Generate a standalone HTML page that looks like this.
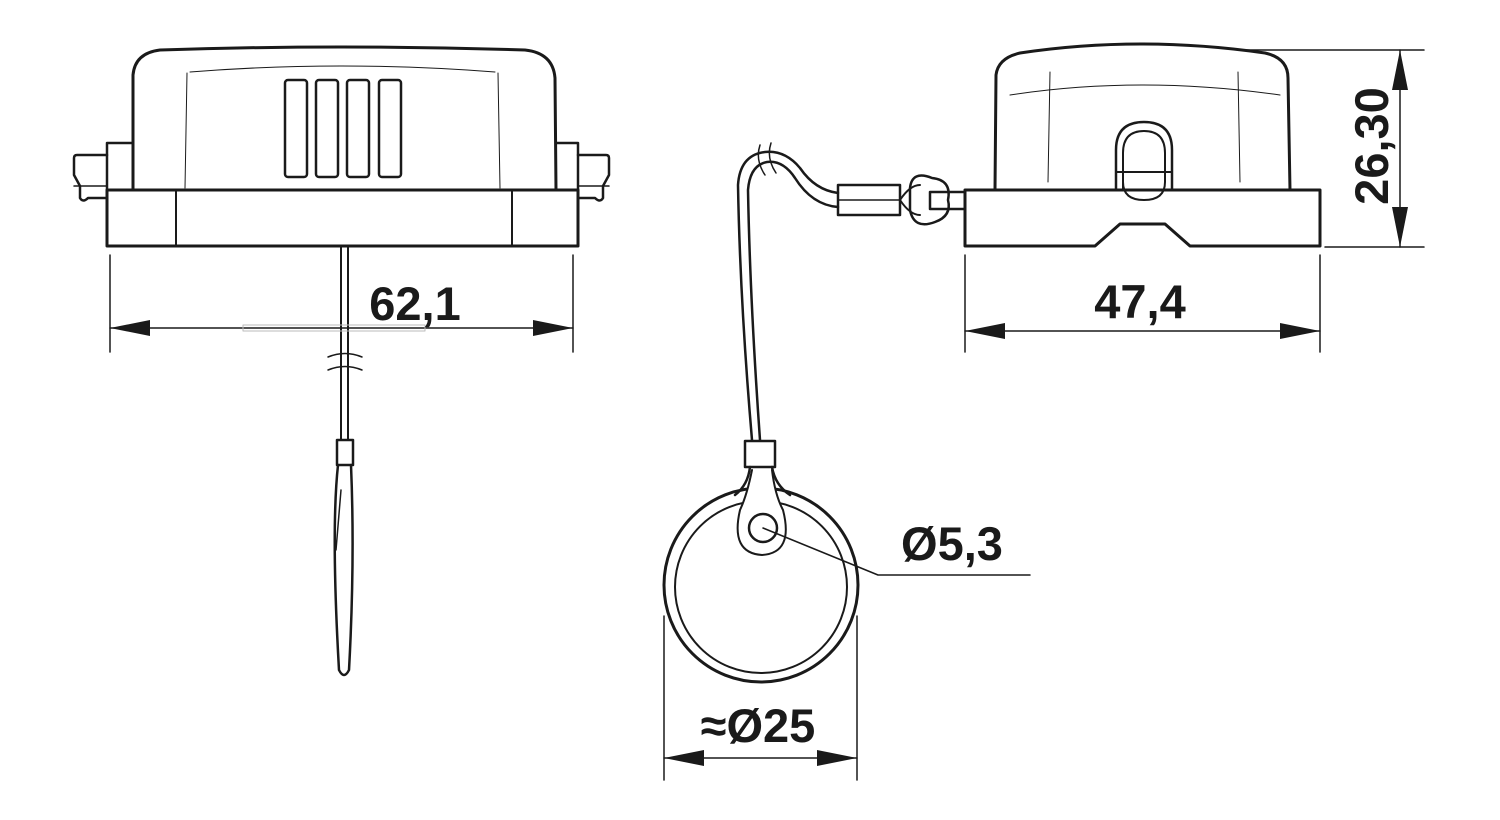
<!DOCTYPE html>
<html><head><meta charset="utf-8"><style>html,body{margin:0;padding:0;background:#fff}svg{display:block}</style></head>
<body>
<svg width="1500" height="820" viewBox="0 0 1500 820" xmlns="http://www.w3.org/2000/svg">
<g fill="none" stroke="#1a1a1a" stroke-linejoin="round" stroke-linecap="round">
<!-- LEFT VIEW -->
<path d="M133,190 L133,75 Q135,53 160,50 Q340,44 525,50 Q553,53 555,78 L556,190" stroke-width="3"/>
<rect x="107" y="190" width="471" height="56" stroke-width="3"/>
<line x1="176" y1="190" x2="176" y2="246" stroke-width="2"/>
<line x1="512" y1="190" x2="512" y2="246" stroke-width="2"/>
<path d="M107,190 L107,143 L133,143" stroke-width="2.5"/>
<path d="M107,155 L77,155 Q74,155 74,158 L74,175 L80,186 L80,198 Q83,203 88,198 L107,198" stroke-width="2.5"/>
<line x1="74" y1="186" x2="107" y2="186" stroke-width="1.5"/>
<path d="M578,190 L578,143 L556,143" stroke-width="2.5"/>
<path d="M578,155 L606,155 Q609,155 609,158 L609,175 L603,186 L603,198 Q600,203 595,198 L578,198" stroke-width="2.5"/>
<line x1="578" y1="186" x2="609" y2="186" stroke-width="1.5"/>
<path d="M190,72 Q340,60 495,72" stroke-width="1"/>
<line x1="187" y1="73" x2="185" y2="188" stroke-width="1"/>
<line x1="498" y1="73" x2="500" y2="188" stroke-width="1"/>
<rect x="285" y="80" width="22" height="97" rx="3" stroke-width="2.5"/>
<rect x="316" y="80" width="22" height="97" rx="3" stroke-width="2.5"/>
<rect x="347" y="80" width="22" height="97" rx="3" stroke-width="2.5"/>
<rect x="379" y="80" width="22" height="97" rx="3" stroke-width="2.5"/>
<line x1="341" y1="246" x2="341" y2="440" stroke-width="2"/>
<line x1="348" y1="246" x2="348" y2="440" stroke-width="2"/>
<path d="M328,357 Q345,350 362,357 M328,370 Q345,363 362,370" stroke-width="1.5"/>
<rect x="337" y="440" width="16" height="25" stroke-width="2.5"/>
<path d="M338,465 Q331,530 339,670 Q344,680 349,670 Q355,560 351,465" stroke-width="2.5"/>
<line x1="341" y1="490" x2="336" y2="550" stroke-width="1.5"/>
<!-- dim 62,1 -->
<g stroke-width="1.5"><line x1="110" y1="255" x2="110" y2="352"/><line x1="573" y1="255" x2="573" y2="352"/><line x1="110" y1="328" x2="573" y2="328"/></g>
<rect x="243" y="325" width="182" height="6" stroke="#bbb" stroke-width="1"/>
<!-- RIGHT VIEW -->
<path d="M995,190 L996,75 Q998,58 1020,53 Q1140,35 1265,53 Q1288,58 1288,78 L1290,190" stroke-width="3"/>
<path d="M965,190 L1320,190 L1320,246 L1190,246 L1165,224 L1120,224 L1095,246 L965,246 Z" stroke-width="3"/>
<path d="M1116,190 L1116,150 Q1116,122 1144,122 Q1172,122 1172,150 L1172,190" stroke-width="2.5"/>
<path d="M1123,190 L1123,153 Q1123,131 1144,131 Q1165,131 1165,153 L1165,182 Q1165,200 1144,200 Q1123,200 1123,182" stroke-width="2"/>
<line x1="1116" y1="172" x2="1172" y2="172" stroke-width="2"/>
<path d="M1010,95 Q1140,75 1280,95" stroke-width="1"/>
<line x1="1050" y1="72" x2="1048" y2="182" stroke-width="1"/>
<line x1="1238" y1="72" x2="1240" y2="182" stroke-width="1"/>
<rect x="930" y="192" width="35" height="17" stroke-width="2.5"/>
<path d="M932,178 Q912,170 910,188 L910,210 Q914,230 935,222 Q952,216 948,200 Q952,180 932,178 Z" stroke-width="2.5"/>
<rect x="838" y="185" width="62" height="30" stroke-width="2.5"/>
<line x1="838" y1="200" x2="900" y2="200" stroke-width="1.5"/>
<path d="M900,200 Q910,185 920,185 M900,200 Q910,215 920,215" stroke-width="2"/>
<path d="M838,193 Q815,190 800,168 Q785,150 765,152 Q740,155 738,185 Q740,300 752,440" stroke-width="2.5"/>
<path d="M838,207 Q812,205 795,178 Q783,160 767,162 Q750,165 748,190 Q750,300 760,440" stroke-width="2.5"/>
<path d="M760,145 Q755,160 765,175 M771,143 Q766,158 776,173" stroke-width="1.5"/>
<!-- dim 47,4 -->
<g stroke-width="1.5"><line x1="965" y1="255" x2="965" y2="352"/><line x1="1320" y1="255" x2="1320" y2="352"/><line x1="965" y1="331" x2="1320" y2="331"/></g>
<!-- dim 26,30 -->
<g stroke-width="1.5"><line x1="1240" y1="50" x2="1424" y2="50"/><line x1="1325" y1="247" x2="1424" y2="247"/><line x1="1400" y1="50" x2="1400" y2="247"/></g>
<!-- RING -->
<rect x="745" y="441" width="30" height="26" stroke-width="2.5"/>
<circle cx="761" cy="585" r="97" stroke-width="3"/>
<circle cx="761" cy="587" r="86" stroke-width="2"/>
<path d="M750,467 Q748,485 735,495 M772,467 Q775,485 790,495" stroke-width="2.5"/>
<path d="M752,470 Q747,495 740,510 Q730,553 762,555 Q794,553 783,510 Q775,495 772,470" fill="#fff" stroke-width="2"/>
<circle cx="763" cy="528" r="14" stroke-width="2.5"/>
<path d="M763,528 L878,575 L1030,575" stroke-width="1.5"/>
<!-- dim Ø25 -->
<g stroke-width="1.5"><line x1="664" y1="616" x2="664" y2="780"/><line x1="857" y1="616" x2="857" y2="780"/><line x1="664" y1="758" x2="857" y2="758"/></g>
</g>
<g fill="#1a1a1a">
<polygon points="110,328 150,320 150,336"/><polygon points="573,328 533,320 533,336"/>
<polygon points="965,331 1005,323 1005,339"/><polygon points="1320,331 1280,323 1280,339"/>
<polygon points="1400,50 1392,90 1408,90"/><polygon points="1400,247 1392,207 1408,207"/>
<polygon points="664,758 704,750 704,766"/><polygon points="857,758 817,750 817,766"/>
</g>
<g font-family="Liberation Sans, sans-serif" font-weight="bold" font-size="47" fill="#1a1a1a">
<text x="415" y="320" text-anchor="middle">62,1</text>
<text x="1140" y="318" text-anchor="middle">47,4</text>
<text x="952" y="560" text-anchor="middle">Ø5,3</text>
<text x="758" y="742" text-anchor="middle">≈Ø25</text>
<text transform="translate(1388,146) rotate(-90)" text-anchor="middle">26,30</text>
</g>
</svg>
</body></html>
